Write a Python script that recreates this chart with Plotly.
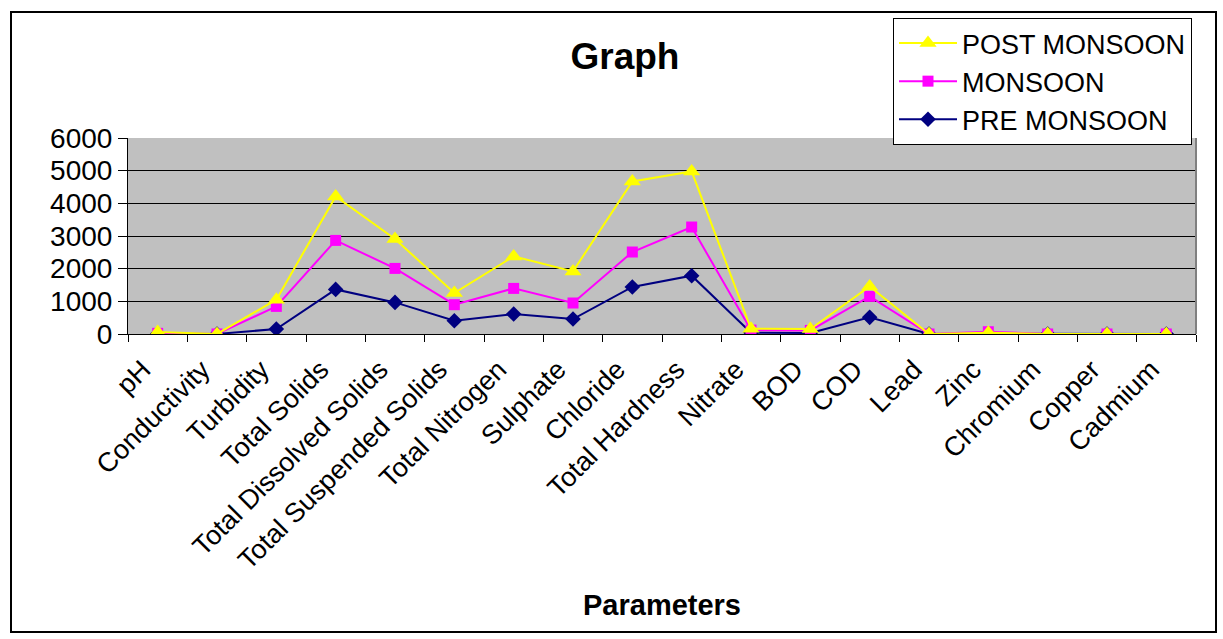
import plotly.graph_objects as go

categories = ["pH", "Conductivity", "Turbidity", "Total Solids", "Total Dissolved Solids",
              "Total Suspended Solids", "Total Nitrogen", "Sulphate", "Chloride",
              "Total Hardness", "Nitrate", "BOD", "COD", "Lead", "Zinc", "Chromium",
              "Copper", "Cadmium"]
pre_monsoon = [7.5, 0.5, 153, 1365, 967, 407, 612, 459, 1439, 1785, 40, 30, 509, 0.1, 5, 0.05, 0.05, 0.01]
monsoon = [20, 1, 845, 2865, 2008, 897, 1396, 949, 2510, 3275, 120, 110, 1151, 0.1, 70, 0.1, 0.1, 0.01]
post_monsoon = [60, 0.5, 1050, 4212, 2908, 1255, 2376, 1917, 4671, 4977, 160, 150, 1457, 0.1, 40, 0.1, 0.1, 0.01]
y_ticks = [0, 1000, 2000, 3000, 4000, 5000, 6000]

FONT = "Liberation Sans, Arial, sans-serif"

fig = go.Figure()
fig.add_trace(go.Scatter(x=categories, y=pre_monsoon, name="PRE MONSOON", mode="lines+markers",
                         line=dict(color="#000080", width=2),
                         marker=dict(symbol="diamond", size=12, color="#000080")))
fig.add_trace(go.Scatter(x=categories, y=monsoon, name="MONSOON", mode="lines+markers",
                         line=dict(color="#FF00FF", width=2),
                         marker=dict(symbol="square", size=11, color="#FF00FF")))
fig.add_trace(go.Scatter(x=categories, y=post_monsoon, name="POST MONSOON", mode="lines+markers",
                         line=dict(color="#FFFF00", width=2),
                         marker=dict(symbol="triangle-up", size=15, color="#FFFF00")))

fig.update_layout(
    width=1223, height=639, autosize=False,
    margin=dict(l=128, r=27, t=138, b=305),
    paper_bgcolor="white", plot_bgcolor="#C0C0C0",
    font=dict(family=FONT, size=26, color="black"),
    title=dict(text="<b>Graph</b>", x=625/1223, xref="container", xanchor="center",
               y=1-56/639, yref="container", yanchor="middle",
               font=dict(family=FONT, size=37, color="black")),
    showlegend=True,
    legend=dict(x=(893-128)/1068, y=(334-18)/196, xanchor="left", yanchor="top",
                xref="paper", yref="paper",
                bgcolor="white", bordercolor="black", borderwidth=1,
                traceorder="reversed", itemwidth=58,
                font=dict(family=FONT, size=27, color="black")),
    xaxis=dict(type="category", range=[-0.5, len(categories) - 0.5], autorange=False,
               tickangle=-45, tickson="boundaries", ticks="outside",
               ticklen=7, tickcolor="black", showline=True, linecolor="black", linewidth=1,
               ticklabelshift=-15, ticklabelstandoff=8,
               showgrid=False, tickfont=dict(family=FONT, size=27, color="black"),
               title=dict(text="<b>Parameters</b>", standoff=20,
                          font=dict(family=FONT, size=29, color="black"))),
    yaxis=dict(range=[0, 6000], tickvals=y_ticks, ticks="outside", ticklen=9,
               tickcolor="black", showline=True, linecolor="black", linewidth=1,
               showgrid=True, gridcolor="black", gridwidth=1, zeroline=False,
               tickfont=dict(family=FONT, size=28, color="black")),
    shapes=[dict(type="rect", xref="paper", yref="paper",
                 x0=(11-128)/1068, x1=(1216-128)/1068,
                 y0=(334-632)/196, y1=(334-12)/196,
                 line=dict(color="black", width=2), fillcolor="rgba(0,0,0,0)", layer="below"),
            dict(type="line", xref="paper", yref="paper", x0=1, x1=1, y0=0, y1=1,
                 line=dict(color="#808080", width=2))],
)

fig.write_html("out.html", config={"displayModeBar": False},
               post_script="document.body.style.margin='0';document.body.style.overflow='hidden';")
